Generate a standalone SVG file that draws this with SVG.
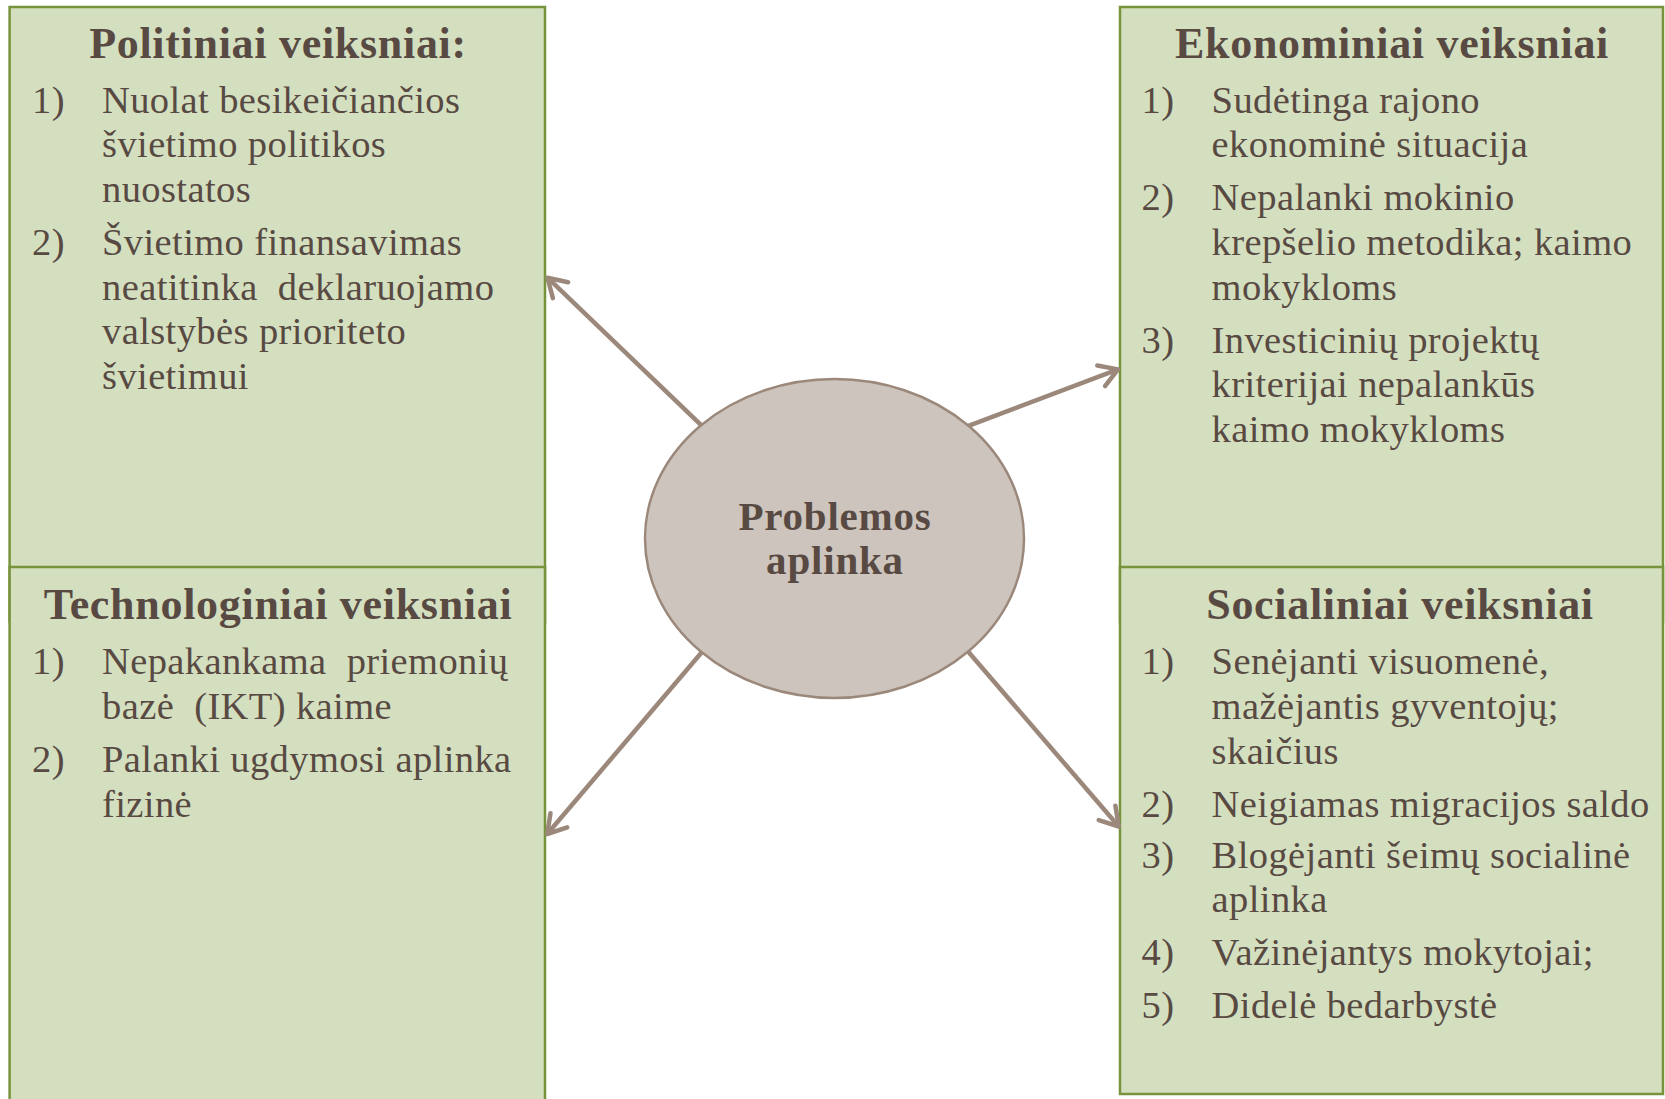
<svg xmlns="http://www.w3.org/2000/svg" width="1665" height="1099" viewBox="0 0 1665 1099">
<style>
.box{fill:#d4dfc0;stroke:#77933c;stroke-width:2.5}
.title{font-family:"Liberation Serif",serif;font-weight:bold;font-size:44px;fill:#584a42;text-anchor:middle;letter-spacing:0.7px}
.body{font-family:"Liberation Serif",serif;font-size:38.5px;fill:#584a42;letter-spacing:0.4px}
.ell{fill:#ccc4bd;stroke:#9b887b;stroke-width:2.5}
.etext{font-family:"Liberation Serif",serif;font-weight:bold;font-size:41px;fill:#584a42;text-anchor:middle;letter-spacing:0.8px}
.conn{stroke:#9b887b;stroke-width:4.5;fill:none;marker-end:url(#arr)}
</style>
<defs>
<marker id="arr" markerUnits="userSpaceOnUse" markerWidth="40" markerHeight="40" viewBox="-30 -20 40 40" refX="0" refY="0" orient="auto" overflow="visible">
<path d="M-18,-11 L0,0 L-18,11" fill="none" stroke="#9b887b" stroke-width="4.5" stroke-linecap="round" stroke-linejoin="round"/>
</marker>
</defs>
<rect width="1665" height="1099" fill="#ffffff"/>
<g id="politiniai">
<rect class="box" x="9.6" y="7" width="535.4" height="615"/>
<text class="title" x="278" y="58">Politiniai veiksniai:</text>
<text class="body" x="32" y="112.6">1)</text>
<text class="body" x="102" y="112.6">Nuolat besikeičiančios</text>
<text class="body" x="102" y="157.2">švietimo politikos</text>
<text class="body" x="102" y="201.8">nuostatos</text>
<text class="body" x="32" y="254.9">2)</text>
<text class="body" x="102" y="254.9">Švietimo finansavimas</text>
<text class="body" x="102" y="299.5" xml:space="preserve">neatitinka  deklaruojamo</text>
<text class="body" x="102" y="344.1">valstybės prioriteto</text>
<text class="body" x="102" y="388.7">švietimui</text>
</g>
<g id="ekonominiai">
<rect class="box" x="1120" y="7" width="543" height="615"/>
<text class="title" x="1392" y="58">Ekonominiai veiksniai</text>
<text class="body" x="1141.6" y="112.6">1)</text>
<text class="body" x="1211.6" y="112.6">Sudėtinga rajono</text>
<text class="body" x="1211.6" y="157.2">ekonominė situacija</text>
<text class="body" x="1141.6" y="210.3">2)</text>
<text class="body" x="1211.6" y="210.3">Nepalanki mokinio</text>
<text class="body" x="1211.6" y="254.9">krepšelio metodika; kaimo</text>
<text class="body" x="1211.6" y="299.5">mokykloms</text>
<text class="body" x="1141.6" y="352.6">3)</text>
<text class="body" x="1211.6" y="352.6">Investicinių projektų</text>
<text class="body" x="1211.6" y="397.2">kriterijai nepalankūs</text>
<text class="body" x="1211.6" y="441.8">kaimo mokykloms</text>
</g>
<g id="technologiniai">
<rect class="box" x="9.6" y="567" width="535.4" height="540"/>
<text class="title" x="278" y="619">Technologiniai veiksniai</text>
<text class="body" x="32" y="674.4">1)</text>
<text class="body" x="102" y="674.4" xml:space="preserve">Nepakankama  priemonių</text>
<text class="body" x="102" y="719" xml:space="preserve">bazė  (IKT) kaime</text>
<text class="body" x="32" y="772">2)</text>
<text class="body" x="102" y="772">Palanki ugdymosi aplinka</text>
<text class="body" x="102" y="816.6">fizinė</text>
</g>
<g id="socialiniai">
<rect class="box" x="1120" y="567" width="543" height="527"/>
<text class="title" x="1400" y="619">Socialiniai veiksniai</text>
<text class="body" x="1141.6" y="674.4">1)</text>
<text class="body" x="1211.6" y="674.4">Senėjanti visuomenė,</text>
<text class="body" x="1211.6" y="719">mažėjantis gyventojų;</text>
<text class="body" x="1211.6" y="763.6">skaičius</text>
<text class="body" x="1141.6" y="816.6">2)</text>
<text class="body" x="1211.6" y="816.6">Neigiamas migracijos saldo</text>
<text class="body" x="1141.6" y="867.6">3)</text>
<text class="body" x="1211.6" y="867.6">Blogėjanti šeimų socialinė</text>
<text class="body" x="1211.6" y="912.2">aplinka</text>
<text class="body" x="1141.6" y="965.3">4)</text>
<text class="body" x="1211.6" y="965.3">Važinėjantys mokytojai;</text>
<text class="body" x="1141.6" y="1018.4">5)</text>
<text class="body" x="1211.6" y="1018.4">Didelė bedarbystė</text>
</g>
<g id="connectors">
<line class="conn" x1="700.9" y1="424.8" x2="547.5" y2="277.7"/>
<line class="conn" x1="968.5" y1="425.8" x2="1118" y2="369.4"/>
<line class="conn" x1="702" y1="652" x2="547.2" y2="834"/>
<line class="conn" x1="968.5" y1="652" x2="1118.8" y2="826.5"/>
</g>
<g id="problemos">
<ellipse class="ell" cx="834.5" cy="538.5" rx="189.5" ry="159.5"/>
<text class="etext" x="835" y="530">Problemos</text>
<text class="etext" x="835" y="574">aplinka</text>
</g>
</svg>
